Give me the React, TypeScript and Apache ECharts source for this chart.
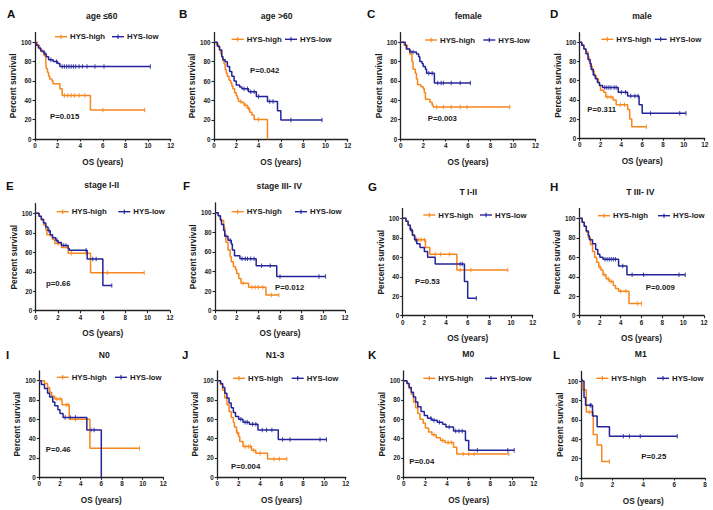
import React, { useEffect, useRef } from "react";
import * as echarts from "echarts";

type Pt = [number, number];

// ---- labels ----
const PANEL_LETTERS = ["A", "B", "C", "D", "E", "F", "G", "H", "I", "J", "K", "L"];
const PANEL_TITLES = [
  "age ≤60", "age >60", "female", "male",
  "stage I-II", "stage III- IV", "T I-II", "T III- IV",
  "N0", "N1-3", "M0", "M1",
];
const P_VALUES = [
  "P=0.015", "P=0.042", "P=0.003", "P=0.311",
  "p=0.66", "P=0.012", "P=0.53", "P=0.009",
  "P=0.46", "P=0.004", "P=0.04", "P=0.25",
];
const GROUP_NAMES = ["HYS-high", "HYS-low"];
const X_MAX = [12, 12, 12, 12, 12, 12, 12, 12, 12, 12, 12, 8];
const X_STEP = 2;
const Y_TICKS = [0, 20, 40, 60, 80, 100];
const Y_MAX = 110;

// ---- Kaplan-Meier step points [years, % survival] ----
const A_HIGH: Pt[] = [[0, 100], [0.2, 97], [0.4, 93], [0.6, 90], [0.8, 86], [0.95, 80], [1.0, 73], [1.1, 69], [1.2, 65], [1.3, 62], [1.5, 60], [1.6, 57], [2.2, 52], [2.4, 45], [4.9, 30], [9.7, 30]];
const A_LOW: Pt[] = [[0, 100], [0.1, 97], [0.3, 94], [0.5, 91], [0.8, 88], [1.0, 85], [1.2, 82], [1.6, 80], [2.0, 78], [2.2, 75], [10.2, 75]];
const B_HIGH: Pt[] = [[0, 100], [0.2, 98], [0.4, 95], [0.5, 92], [0.6, 88], [0.7, 85], [0.8, 81], [0.9, 78], [1.0, 72], [1.1, 68], [1.2, 65], [1.35, 61], [1.5, 58], [1.6, 55], [1.7, 52], [1.85, 48], [2.0, 45], [2.1, 42], [2.2, 39], [2.5, 38], [2.7, 35], [3.0, 32], [3.2, 28], [3.4, 25], [3.6, 20.5], [4.8, 0]];
const B_LOW: Pt[] = [[0, 100], [0.3, 96], [0.5, 92], [0.7, 85], [0.8, 82], [1.0, 80], [1.2, 75], [1.4, 70], [1.6, 65], [1.8, 60], [2.0, 56], [2.3, 54], [2.5, 52], [3.1, 49], [3.8, 44], [4.8, 39], [5.7, 29.5], [6.0, 20], [9.7, 20]];
const C_HIGH: Pt[] = [[0, 100], [0.3, 97], [0.6, 93], [0.8, 88], [1.0, 80], [1.1, 72], [1.3, 68], [1.4, 62], [1.5, 56], [1.8, 54], [2.0, 52], [2.1, 48], [2.2, 41], [2.6, 38], [2.8, 35], [2.9, 33], [9.7, 33]];
const C_LOW: Pt[] = [[0, 100], [0.4, 97], [0.5, 93], [0.8, 90], [1.4, 88], [1.6, 85], [1.7, 80], [1.9, 78], [2.0, 75], [2.2, 72], [2.3, 68], [3.0, 58], [6.2, 58]];
const D_HIGH: Pt[] = [[0, 100], [0.2, 97], [0.4, 93], [0.6, 90], [0.8, 85], [0.9, 80], [1.0, 75], [1.2, 70], [1.4, 65], [1.6, 62], [1.8, 58], [1.9, 55], [2.0, 50], [2.3, 48], [2.5, 43], [3.2, 40], [3.5, 35], [4.6, 30], [4.8, 20], [5.0, 12], [6.4, 12]];
const D_LOW: Pt[] = [[0, 100], [0.2, 97], [0.4, 93], [0.6, 88], [0.8, 82], [1.0, 78], [1.1, 72], [1.3, 66], [1.5, 62], [1.7, 58], [1.9, 55], [2.2, 53], [3.7, 48], [4.6, 44], [5.7, 35], [6.0, 26], [10.2, 26]];
const E_HIGH: Pt[] = [[0, 100], [0.3, 97], [0.5, 93], [0.7, 88], [0.9, 83], [1.0, 78], [1.5, 73], [1.7, 69], [2.3, 65], [2.9, 59], [4.9, 39], [9.7, 39]];
const E_LOW: Pt[] = [[0, 100], [0.3, 97], [0.5, 94], [0.7, 90], [0.9, 86], [1.1, 82], [1.3, 78], [1.5, 75], [1.8, 72], [2.0, 70], [2.3, 67], [2.9, 64], [3.0, 62], [4.6, 53], [6.0, 26], [6.8, 26]];
const F_HIGH: Pt[] = [[0, 100], [0.3, 97], [0.5, 92], [0.8, 85], [0.9, 78], [1.0, 70], [1.2, 62], [1.4, 55], [1.5, 50], [1.7, 45], [1.9, 42], [2.0, 38], [2.2, 33], [2.4, 28], [3.1, 24], [4.7, 16], [5.9, 16]];
const F_LOW: Pt[] = [[0, 100], [0.3, 97], [0.5, 93], [0.6, 88], [0.8, 82], [0.9, 76], [1.2, 72], [1.5, 68], [1.6, 62], [1.8, 56], [2.3, 53], [3.8, 46], [5.7, 35], [10.2, 35]];
const G_HIGH: Pt[] = [[0, 100], [0.3, 97], [0.5, 93], [0.7, 88], [0.9, 82], [1.1, 78], [2.1, 70], [2.5, 63], [5.0, 47], [9.7, 47]];
const G_LOW: Pt[] = [[0, 100], [0.3, 97], [0.5, 93], [0.7, 88], [0.9, 83], [1.1, 78], [1.3, 74], [1.6, 70], [2.0, 66], [2.3, 60], [3.0, 53], [5.7, 35], [6.0, 18], [6.8, 18]];
const H_HIGH: Pt[] = [[0, 100], [0.3, 96], [0.5, 92], [0.7, 86], [0.9, 80], [1.1, 73], [1.3, 66], [1.5, 60], [1.7, 55], [1.9, 50], [2.1, 47], [2.3, 42], [2.6, 38], [2.9, 35], [3.3, 31], [3.5, 28], [3.8, 25], [4.8, 12.5], [6.0, 12.5]];
const H_LOW: Pt[] = [[0, 100], [0.3, 96], [0.5, 92], [0.7, 87], [0.9, 82], [1.0, 78], [1.3, 74], [1.6, 68], [1.8, 63], [2.0, 60], [2.3, 58], [3.8, 51], [4.6, 42], [10.2, 42]];
const I_HIGH: Pt[] = [[0, 100], [0.5, 97], [0.8, 93], [1.0, 88], [1.2, 84], [1.5, 81], [2.2, 75], [2.9, 60], [4.9, 30], [9.7, 30]];
const I_LOW: Pt[] = [[0, 100], [0.2, 96], [0.5, 92], [0.8, 87], [1.0, 83], [1.3, 78], [1.5, 74], [1.8, 70], [2.0, 66], [2.3, 62], [4.6, 49], [6.0, 0]];
const J_HIGH: Pt[] = [[0, 100], [0.3, 96], [0.5, 90], [0.7, 82], [0.9, 75], [1.1, 68], [1.3, 62], [1.5, 57], [1.6, 52], [1.8, 46], [2.0, 42], [2.1, 37], [2.4, 32], [3.2, 28], [3.6, 25], [4.7, 19], [6.5, 19]];
const J_LOW: Pt[] = [[0, 100], [0.3, 97], [0.5, 93], [0.7, 87], [0.9, 82], [1.1, 77], [1.3, 72], [1.5, 67], [1.7, 63], [2.0, 60], [2.4, 57], [3.0, 55], [3.8, 49], [5.7, 39], [10.2, 39]];
const K_HIGH: Pt[] = [[0, 100], [0.3, 97], [0.5, 92], [0.7, 86], [0.9, 78], [1.1, 72], [1.3, 66], [1.5, 60], [1.8, 56], [2.0, 51], [2.3, 47], [2.6, 44], [3.0, 41], [3.4, 38], [3.8, 36], [4.6, 31], [4.9, 24], [9.7, 24]];
const K_LOW: Pt[] = [[0, 100], [0.3, 97], [0.5, 93], [0.7, 88], [0.9, 83], [1.1, 78], [1.3, 73], [1.6, 68], [1.9, 64], [2.2, 61], [2.6, 59], [3.1, 57], [3.6, 55], [3.9, 52], [4.6, 48], [5.7, 38], [6.0, 28], [10.2, 28]];
const L_HIGH: Pt[] = [[0, 100], [0.05, 91], [0.3, 68], [0.75, 45], [1.0, 34], [1.3, 17], [1.8, 17]];
const L_LOW: Pt[] = [[0, 100], [0.15, 83], [0.25, 75], [0.7, 64], [1.0, 53], [1.8, 43], [6.2, 43]];

// ---- censoring times (years) ----
const A_HIGH_CENS = [2.6, 2.9, 3.2, 3.5, 3.9, 4.4, 6.0, 9.7];
const A_LOW_CENS = [0.9, 1.4, 1.9, 2.4, 2.6, 2.8, 3.0, 3.2, 3.4, 3.6, 3.9, 4.2, 4.6, 5.3, 6.1, 10.2];
const B_HIGH_CENS = [2.4, 2.8, 3.1, 4.0];
const B_LOW_CENS = [2.7, 3.0, 3.3, 3.6, 4.0, 5.0, 5.3, 6.9, 9.7];
const C_HIGH_CENS = [3.2, 3.8, 4.5, 5.3, 5.9, 9.7];
const C_LOW_CENS = [0.9, 1.1, 2.5, 2.8, 3.3, 3.6, 3.8, 4.5, 5.3, 6.2];
const D_HIGH_CENS = [2.7, 3.0, 3.9, 4.3, 6.4];
const D_LOW_CENS = [2.4, 2.6, 2.8, 3.0, 3.3, 3.5, 4.0, 4.4, 4.9, 5.3, 5.6, 6.8, 9.6, 10.2];
const E_HIGH_CENS = [1.3, 2.0, 3.2, 4.5, 6.4, 9.7];
const E_LOW_CENS = [1.2, 1.9, 2.5, 2.7, 4.5, 5.1, 5.4, 6.8];
const F_HIGH_CENS = [2.6, 3.4, 3.7, 4.0, 4.4, 5.2, 5.9];
const F_LOW_CENS = [1.0, 1.4, 2.5, 2.8, 3.0, 3.3, 3.6, 4.3, 5.1, 6.0, 9.6, 10.2];
const G_HIGH_CENS = [1.3, 1.5, 1.7, 2.0, 3.0, 3.5, 4.3, 5.3, 6.3, 9.7];
const G_LOW_CENS = [0.8, 1.2, 5.3, 5.5, 6.8];
const H_HIGH_CENS = [2.0, 2.4, 2.8, 3.1, 4.0, 4.5, 5.6, 6.0];
const H_LOW_CENS = [2.5, 2.7, 2.9, 3.1, 3.3, 3.5, 4.2, 5.1, 6.2, 9.6, 10.2];
const I_HIGH_CENS = [1.7, 2.0, 2.6, 2.8, 3.5, 9.7];
const I_LOW_CENS = [2.5, 3.0, 3.5, 5.0, 5.3];
const J_HIGH_CENS = [1.9, 2.6, 2.9, 3.1, 3.4, 4.0, 5.3, 5.8, 6.5];
const J_LOW_CENS = [2.2, 2.6, 2.8, 3.3, 3.6, 4.2, 4.6, 5.1, 6.1, 6.8, 9.6, 10.2];
const K_HIGH_CENS = [2.8, 3.6, 4.1, 4.4, 5.5, 6.0, 6.5, 9.7];
const K_LOW_CENS = [2.5, 2.8, 3.3, 4.2, 4.8, 5.1, 5.4, 6.8, 9.6, 10.2];
const L_HIGH_CENS = [0.5, 1.8];
const L_LOW_CENS = [0.05, 0.55, 0.6, 2.7, 3.1, 3.8, 6.2];

const HIGH_CURVES = [A_HIGH, B_HIGH, C_HIGH, D_HIGH, E_HIGH, F_HIGH, G_HIGH, H_HIGH, I_HIGH, J_HIGH, K_HIGH, L_HIGH];
const LOW_CURVES = [A_LOW, B_LOW, C_LOW, D_LOW, E_LOW, F_LOW, G_LOW, H_LOW, I_LOW, J_LOW, K_LOW, L_LOW];
const HIGH_CENSORS = [A_HIGH_CENS, B_HIGH_CENS, C_HIGH_CENS, D_HIGH_CENS, E_HIGH_CENS, F_HIGH_CENS, G_HIGH_CENS, H_HIGH_CENS, I_HIGH_CENS, J_HIGH_CENS, K_HIGH_CENS, L_HIGH_CENS];
const LOW_CENSORS = [A_LOW_CENS, B_LOW_CENS, C_LOW_CENS, D_LOW_CENS, E_LOW_CENS, F_LOW_CENS, G_LOW_CENS, H_LOW_CENS, I_LOW_CENS, J_LOW_CENS, K_LOW_CENS, L_LOW_CENS];

// ---- layout (pixels) ----
// grid: [left, top, width, height]; legend: [highX, lowX, y]
const LAYOUT = [
  { grid: [35, 32.6, 135.7, 106.4], letter: [7, 14], title: [101.7, 15.7], legend: [55, 112, 36.7], p: [50, 116.7] },
  { grid: [214, 32.6, 133.7, 106.7], letter: [179, 13.5], title: [276.7, 15.5], legend: [231.7, 285, 39.3], p: [250, 70] },
  { grid: [400.7, 32.6, 134.8, 106.4], letter: [367, 13.5], title: [468.3, 15.7], legend: [425, 483.3, 40], p: [427.7, 118.3] },
  { grid: [579.7, 32.7, 125, 105.6], letter: [550, 13.5], title: [642, 15.7], legend: [601.3, 654.7, 39.3], p: [587.3, 109.3] },
  { grid: [35.7, 203.6, 134.3, 107.1], letter: [6, 185.7], title: [101.7, 185], legend: [56.7, 118.3, 211.7], p: [46, 283.3] },
  { grid: [215, 203, 130, 107.7], letter: [183, 185.7], title: [279.3, 185.7], legend: [231.7, 295, 211.7], p: [275, 287.3] },
  { grid: [402.7, 208.6, 130, 107.1], letter: [368, 187.3], title: [468.3, 191.7], legend: [423.3, 480, 215], p: [415, 281.7] },
  { grid: [579, 208.6, 125, 107.1], letter: [550, 187.3], title: [640.3, 191.7], legend: [598, 658, 215.7], p: [645.7, 287.3] },
  { grid: [39.3, 371, 124, 106.3], letter: [6, 355], title: [104.3, 355], legend: [56.7, 115, 377.3], p: [45.7, 449] },
  { grid: [217.3, 371, 128.4, 106.3], letter: [182, 355], title: [275, 355], legend: [233, 291.7, 378.3], p: [231, 466.7] },
  { grid: [403.7, 371, 130, 106.3], letter: [368, 355], title: [468.3, 354], legend: [423.3, 485, 378.3], p: [409.3, 461.7] },
  { grid: [581.7, 371.4, 123.3, 106.6], letter: [553, 355], title: [640.7, 354], legend: [596.3, 657, 378.3], p: [641.3, 456.7] },
];

const HIGH_COLOR = "#F7861C";
const LOW_COLOR = "#24249A";
const FONT = "'Liberation Sans', Arial, sans-serif";
const TEXT_COLOR = "#1a1a1a";

// survival value of a step curve at time t
function survivalAt(curve: Pt[], t: number): number {
  let v = curve[0][1];
  for (const [x, y] of curve) {
    if (x <= t + 1e-9) v = y;
    else break;
  }
  return v;
}

function buildOption() {
  const grid: any[] = [];
  const xAxis: any[] = [];
  const yAxis: any[] = [];
  const series: any[] = [];
  const graphic: any[] = [];

  LAYOUT.forEach((lay, i) => {
    const [left, top, width, height] = lay.grid;
    grid.push({ left, top, width, height, containLabel: false });

    xAxis.push({
      type: "value",
      gridIndex: i,
      min: 0,
      max: X_MAX[i],
      interval: X_STEP,
      name: "OS (years)",
      nameLocation: "middle",
      nameGap: 19,
      nameTextStyle: { fontFamily: FONT, fontSize: 8.2, fontWeight: "bold", color: TEXT_COLOR },
      axisLine: { show: true, onZero: false, lineStyle: { color: "#222", width: 1.3 } },
      axisTick: { show: true, length: 2.5, lineStyle: { color: "#222", width: 1.1 } },
      axisLabel: { fontFamily: FONT, fontSize: 6.3, fontWeight: "bold", color: TEXT_COLOR, margin: 3.5 },
      splitLine: { show: false },
    });

    yAxis.push({
      type: "value",
      gridIndex: i,
      min: 0,
      max: Y_MAX,
      name: "Percent survival",
      nameLocation: "middle",
      nameGap: 16,
      nameTextStyle: { fontFamily: FONT, fontSize: 8.4, fontWeight: "bold", color: TEXT_COLOR },
      axisLine: { show: true, onZero: false, lineStyle: { color: "#222", width: 1.3 } },
      axisTick: { show: true, length: 2.5, customValues: Y_TICKS, lineStyle: { color: "#222", width: 1.1 } },
      axisLabel: { fontFamily: FONT, fontSize: 6.3, fontWeight: "bold", color: TEXT_COLOR, margin: 3.5, customValues: Y_TICKS },
      splitLine: { show: false },
    });

    const groups = [
      { name: GROUP_NAMES[0], curve: HIGH_CURVES[i], cens: HIGH_CENSORS[i], color: HIGH_COLOR },
      { name: GROUP_NAMES[1], curve: LOW_CURVES[i], cens: LOW_CENSORS[i], color: LOW_COLOR },
    ];
    groups.forEach((g) => {
      series.push({
        type: "line",
        name: g.name,
        xAxisIndex: i,
        yAxisIndex: i,
        step: "end",
        data: g.curve,
        showSymbol: false,
        silent: true,
        lineStyle: { color: g.color, width: 1.5 },
        itemStyle: { color: g.color },
      });
      series.push({
        type: "scatter",
        name: g.name,
        xAxisIndex: i,
        yAxisIndex: i,
        data: g.cens.map((t) => [t, survivalAt(g.curve, t)]),
        symbol: "rect",
        symbolSize: [1.1, 4.5],
        silent: true,
        itemStyle: { color: g.color },
      });
    });

    // panel letter and title
    graphic.push({
      type: "text",
      style: {
        text: PANEL_LETTERS[i], x: lay.letter[0], y: lay.letter[1],
        fontFamily: FONT, fontSize: 11.5, fontWeight: "bold", fill: "#111",
        verticalAlign: "middle", align: "left",
      },
    });
    graphic.push({
      type: "text",
      style: {
        text: PANEL_TITLES[i], x: lay.title[0], y: lay.title[1],
        fontFamily: FONT, fontSize: 8.6, fontWeight: "bold", fill: TEXT_COLOR,
        verticalAlign: "middle", align: "center",
      },
    });

    // legend: line sample with censor tick and label
    const [hx, lx, ly] = lay.legend;
    [[hx, HIGH_COLOR, GROUP_NAMES[0]], [lx, LOW_COLOR, GROUP_NAMES[1]]].forEach(([x, color, label]: any) => {
      graphic.push({ type: "line", shape: { x1: x, y1: ly, x2: x + 12, y2: ly }, style: { stroke: color, lineWidth: 1.4 } });
      graphic.push({ type: "line", shape: { x1: x + 6, y1: ly - 2.3, x2: x + 6, y2: ly + 2.3 }, style: { stroke: color, lineWidth: 1.1 } });
      graphic.push({
        type: "text",
        style: {
          text: label, x: x + 15, y: ly,
          fontFamily: FONT, fontSize: 7.8, fontWeight: "bold", fill: TEXT_COLOR,
          verticalAlign: "middle", align: "left",
        },
      });
    });

    // log-rank p value
    graphic.push({
      type: "text",
      style: {
        text: P_VALUES[i], x: lay.p[0], y: lay.p[1],
        fontFamily: FONT, fontSize: 7.8, fontWeight: "bold", fill: TEXT_COLOR,
        verticalAlign: "middle", align: "left",
      },
    });
  });

  return {
    animation: false,
    backgroundColor: "#ffffff",
    grid,
    xAxis,
    yAxis,
    series,
    graphic,
  };
}

export default function App() {
  const ref = useRef<HTMLDivElement>(null);

  useEffect(() => {
    if (!ref.current) return;
    const chart = echarts.init(ref.current, undefined, { renderer: "svg" });
    chart.setOption(buildOption() as any);
    return () => chart.dispose();
  }, []);

  return (
    <div
      ref={ref}
      style={{ position: "fixed", left: 0, top: 0, width: 713, height: 510, background: "#fff" }}
    />
  );
}
